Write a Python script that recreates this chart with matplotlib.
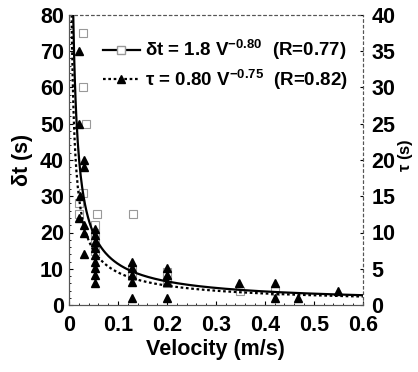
import numpy as np
import matplotlib.pyplot as plt

plt.rcParams['font.family'] = ['Liberation Sans', 'DejaVu Sans']
plt.rcParams['font.weight'] = 'bold'
plt.rcParams['mathtext.fontset'] = 'custom'
plt.rcParams['mathtext.rm'] = 'Liberation Sans:bold'
plt.rcParams['mathtext.it'] = 'Liberation Sans:bold'
plt.rcParams['mathtext.bf'] = 'Liberation Sans:bold'

# delta t data (left axis, s)
v_dt = [0.029, 0.029, 0.034, 0.029, 0.02, 0.02, 0.057, 0.13, 0.054, 0.054, 0.054, 0.054,
        0.128, 0.128, 0.2, 0.2, 0.2, 0.35, 0.42]
dt = [75, 60, 50, 31, 28, 25, 25, 25, 22, 20, 17, 15, 10, 8, 9, 7, 6, 4, 4]

# tau data (right axis, s)
v_tau = [0.02, 0.02, 0.03, 0.03, 0.022, 0.02, 0.031, 0.031, 0.031,
         0.054, 0.054, 0.054, 0.054, 0.054, 0.054, 0.054, 0.054, 0.054,
         0.128, 0.128, 0.128, 0.128, 0.128,
         0.2, 0.2, 0.2, 0.2,
         0.348, 0.42, 0.42, 0.467, 0.55]
tau = [35, 25, 20, 19, 15, 12, 11, 10, 7,
       10.5, 9.6, 8.7, 7.8, 6.9, 6.0, 5.1, 4.2, 3.0,
       6.0, 5.1, 4.2, 3.2, 1.0,
       5.1, 4.2, 3.2, 1.0,
       3.0, 3.0, 1.0, 1.0, 2.0]

# fit parameters
a_dt, b_dt = 1.8, -0.80
a_tau, b_tau = 0.80, -0.75

fig = plt.figure(figsize=(4.18, 3.72), dpi=100)
ax = fig.add_axes([0.165, 0.180, 0.703, 0.780])
ax2 = ax.twinx()

vv = np.linspace(0.003, 0.6, 400)
ax.plot(vv, a_dt * vv ** b_dt, color='black', lw=1.6, zorder=3)
ax.plot(v_dt, dt, ls='none', marker='s', ms=5.5, mfc='white', mec='#999999', mew=0.8)
ax2.plot(vv, a_tau * vv ** b_tau, color='black', lw=1.6, ls=(0, (1.2, 1.2)))
ax2.plot(v_tau, tau, ls='none', marker='^', ms=6, color='black')

ax.set_xlim(0, 0.6)
ax.set_ylim(0, 80)
ax2.set_ylim(0, 40)
ax.set_xticks(np.arange(0, 0.61, 0.1))
ax.set_xticklabels(['0', '0.1', '0.2', '0.3', '0.4', '0.5', '0.6'])
ax.set_yticks(np.arange(0, 81, 10))
ax2.set_yticks(np.arange(0, 41, 5))
ax.minorticks_on()
ax.tick_params(which='both', direction='in', labelsize=15.5)
ax.tick_params(axis='x', pad=7)
ax.tick_params(which='major', length=3)
ax.tick_params(which='minor', length=1.5)
ax2.tick_params(direction='in', labelsize=15.5, length=2, pad=6)
for a in (ax, ax2):
    for s in a.spines.values():
        s.set_linewidth(0.8)
        s.set_color('#555555')
    a.spines['top'].set_linestyle((0, (2, 3)))
    a.spines['right'].set_linestyle((0, (2, 3)))

ax.set_xlabel('Velocity (m/s)', fontsize=15.5, fontweight='bold', labelpad=2)
ax.set_ylabel(r'$\delta$t (s)', fontsize=15.5, fontweight='bold')
ax2.set_ylabel(r'$\tau$ (s)', fontsize=12, fontweight='bold')
ax2.yaxis.set_label_coords(1.112, 0.517)

h1, = ax.plot([], [], color='black', lw=1.6, marker='s', ms=5.5,
              mfc='white', mec='#999999')
h2, = ax.plot([], [], color='black', lw=1.6, ls=(0, (1.2, 1.2)), marker='^', ms=6)
ax.legend([h1, h2],
          [r'$\delta$t = 1.8 V$^{-0.80}$  (R=0.77)', r'$\tau$ = 0.80 V$^{-0.75}$  (R=0.82)'],
          loc='upper left', bbox_to_anchor=(0.07, 0.965), frameon=False,
          fontsize=13.5, numpoints=1, handlelength=2.0, handletextpad=0.25,
          labelspacing=0.3, borderpad=0.2)

fig.savefig('out.png', dpi=100)
